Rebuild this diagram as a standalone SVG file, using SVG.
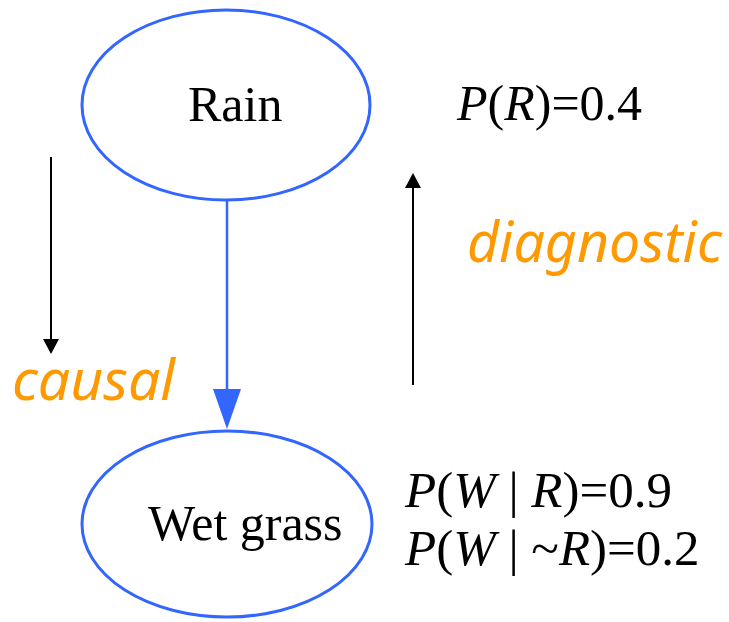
<svg xmlns="http://www.w3.org/2000/svg" width="729" height="622" viewBox="0 0 729 622">
<style>
.node{fill:#fff;stroke:#3366ff;stroke-width:3}
.lbl{font-family:"Liberation Serif","Times New Roman",serif;font-size:50px;fill:#000}
.it{font-style:italic}
.note{font-family:"Noto Sans","Open Sans",sans-serif;font-style:italic;font-size:56px;fill:#ff9900}
.blk{stroke:#000;stroke-width:2;fill:none}
</style>
<rect width="729" height="622" fill="#fff"/>
<g id="connectors">
<line x1="227" y1="201" x2="227" y2="392" stroke="#3366ff" stroke-width="2.5"/>
<polygon points="213,389 241,389 227,429" fill="#3366ff"/>
<line class="blk" x1="51" y1="157" x2="51" y2="340"/>
<polygon points="43,339 59,339 51,354" fill="#000"/>
<line class="blk" x1="413" y1="385" x2="413" y2="187"/>
<polygon points="405,188 421,188 413,173" fill="#000"/>
</g>
<g id="rain">
<ellipse class="node" cx="226" cy="105" rx="144" ry="95"/>
<text class="lbl" x="188" y="121">Rain</text>
</g>
<g id="wetgrass">
<ellipse class="node" cx="227" cy="524" rx="145" ry="93"/>
<text class="lbl" x="148" y="540">Wet grass</text>
</g>
<g id="labels">
<text class="lbl" x="457" y="120"><tspan class="it">P</tspan>(<tspan class="it">R</tspan>)=0.4</text>
<text class="lbl" x="405" y="507" style="font-size:51px"><tspan class="it">P</tspan>(<tspan class="it">W</tspan> | <tspan class="it">R</tspan>)=0.9</text>
<text class="lbl" x="405" y="565" style="font-size:51px"><tspan class="it">P</tspan>(<tspan class="it">W</tspan> | ~<tspan class="it">R</tspan>)=0.2</text>
<text class="note" x="12" y="400" textLength="163" lengthAdjust="spacingAndGlyphs">causal</text>
<text class="note" x="467" y="262" textLength="255" lengthAdjust="spacingAndGlyphs">diagnostic</text>
</g>
</svg>
